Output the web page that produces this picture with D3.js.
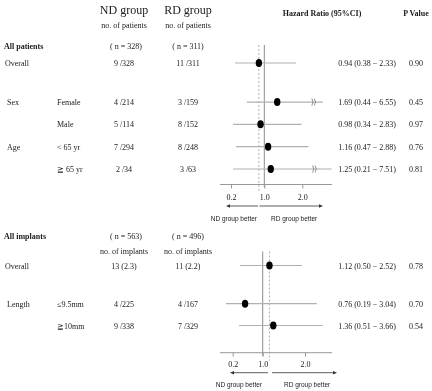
<!DOCTYPE html>
<html><head><meta charset="utf-8">
<script src="https://cdn.jsdelivr.net/npm/d3@7"></script>
<style>
body{margin:0;background:#fff;}
svg{display:block;will-change:transform;}
text{font-family:"Liberation Serif","DejaVu Serif",serif;fill:#1a1a1a;}
.sans{font-family:"Liberation Sans","DejaVu Sans",sans-serif;}
</style></head>
<body>
<svg id="c" width="432" height="391"></svg>
<script>
// ---------- data ----------
const topGroups = ["", "Sex", "", "Age", ""];
const topLabels = ["Overall", "Female", "Male", "< 65 yr", "≧ 65 yr"];
const topRows = [0, 1.75, 2.75, 3.75, 4.75];
const topND = ["9 /328", "4 /214", "5 /114", "7 /294", "2 /34"];
const topRD = ["11 /311", "3 /159", "8 /152", "8 /248", "3 /63"];
const topHR = [0.94, 1.69, 0.98, 1.16, 1.25];
const topLo = [0.38, 0.44, 0.34, 0.47, 0.21];
const topHi = [2.33, 6.55, 2.83, 2.88, 7.51];
const topP = ["0.90", "0.45", "0.97", "0.76", "0.81"];
// positions as drawn against the axis in the figure
const topPt = [0.87, 1.34, 0.91, 1.10, 1.17];
const topCiLo = [0.30, 0.58, 0.25, 0.32, 0.25];
const topCiHi = [1.83, 2.54, 1.98, 2.16, 2.77];
const topBreak = [null, 2.25, null, null, 2.27];
const topRef = 0.87;

const botGroups = ["", "Length", ""];
const botLabels = ["Overall", "≤9.5mm", "≧10mm"];
const botRows = [0, 1.75, 2.75];
const botND = ["13 (2.3)", "4 /225", "9 /338"];
const botRD = ["11 (2.2)", "4 /167", "7 /329"];
const botHR = [1.12, 0.76, 1.36];
const botLo = [0.50, 0.19, 0.51];
const botHi = [2.52, 3.04, 3.66];
const botP = ["0.78", "0.70", "0.54"];
const botPt = [1.16, 0.53, 1.25];
const botCiLo = [0.39, 0.02, 0.37];
const botCiHi = [1.93, 2.28, 2.42];
const botBreak = [null, null, null];
const botRef = 1.16;

const tickVals = [0.2, 1.0, 2.0];
const tickLabels = ["0.2", "1.0", "2.0"];

const svg = d3.select("#c");
const f2 = d3.format(".2f");
const hrText = (h, l, u) => `${f2(h)} (${f2(l)} − ${f2(u)})`;

// headers
svg.append("text").attr("x", 124).attr("y", 14).attr("text-anchor", "middle").attr("font-size", 12).text("ND group");
svg.append("text").attr("x", 188).attr("y", 14).attr("text-anchor", "middle").attr("font-size", 12).text("RD group");
svg.append("text").attr("x", 124).attr("y", 28).attr("text-anchor", "middle").attr("font-size", 8).text("no. of patients");
svg.append("text").attr("x", 188).attr("y", 28).attr("text-anchor", "middle").attr("font-size", 8).text("no. of patients");
svg.append("text").attr("x", 322).attr("y", 16).attr("text-anchor", "middle").attr("font-size", 8).attr("font-weight", "bold").text("Hazard Ratio (95%CI)");
svg.append("text").attr("x", 416).attr("y", 16).attr("text-anchor", "middle").attr("font-size", 8).attr("font-weight", "bold").text("P Value");

svg.append("text").attr("x", 4).attr("y", 49).attr("font-size", 8).attr("font-weight", "bold").text("All patients");
svg.append("text").attr("x", 126).attr("y", 49).attr("text-anchor", "middle").attr("font-size", 8).text("( n = 328)");
svg.append("text").attr("x", 188).attr("y", 49).attr("text-anchor", "middle").attr("font-size", 8).text("( n = 311)");

svg.append("text").attr("x", 4).attr("y", 239).attr("font-size", 8).attr("font-weight", "bold").text("All implants");
svg.append("text").attr("x", 126).attr("y", 239).attr("text-anchor", "middle").attr("font-size", 8).text("( n = 563)");
svg.append("text").attr("x", 188).attr("y", 239).attr("text-anchor", "middle").attr("font-size", 8).text("( n = 496)");
svg.append("text").attr("x", 124).attr("y", 254).attr("text-anchor", "middle").attr("font-size", 8).text("no. of implants");
svg.append("text").attr("x", 188).attr("y", 254).attr("text-anchor", "middle").attr("font-size", 8).text("no. of implants");

function panel(cfg) {
  const x = d3.scaleLinear().domain(tickVals).range(cfg.xr);
  const y = d3.scaleLinear().domain([0, cfg.rows[cfg.rows.length - 1]]).range(cfg.yr);
  const g = svg.append("g");

  // text columns
  cfg.labels.forEach((lab, i) => {
    const yy = y(cfg.rows[i]) + 3;
    if (cfg.groups[i]) g.append("text").attr("x", 7).attr("y", yy).attr("font-size", 8).text(cfg.groups[i]);
    g.append("text").attr("x", i === 0 ? 5 : 57).attr("y", yy).attr("font-size", 8).text(lab);
    g.append("text").attr("x", 124).attr("y", yy).attr("text-anchor", "middle").attr("font-size", 8).text(cfg.nd[i]);
    g.append("text").attr("x", 188).attr("y", yy).attr("text-anchor", "middle").attr("font-size", 8).text(cfg.rd[i]);
    g.append("text").attr("x", 396).attr("y", yy).attr("text-anchor", "end").attr("font-size", 8).text(hrText(cfg.hr[i], cfg.lo[i], cfg.hi[i]));
    g.append("text").attr("x", 416).attr("y", yy).attr("text-anchor", "middle").attr("font-size", 8).text(cfg.p[i]);
  });

  // reference lines
  g.append("line").attr("x1", x(1)).attr("x2", x(1)).attr("y1", cfg.vTop).attr("y2", cfg.axisY + 3)
    .attr("stroke", "#8c8c8c").attr("stroke-width", 1);
  g.append("line").attr("x1", x(cfg.ref)).attr("x2", x(cfg.ref)).attr("y1", cfg.vTop).attr("y2", cfg.axisY + 8)
    .attr("stroke", "#999").attr("stroke-width", 0.8).attr("stroke-dasharray", "2,2");

  // CI lines
  cfg.labels.forEach((lab, i) => {
    const yy = y(cfg.rows[i]);
    g.append("line").attr("x1", x(cfg.ciLo[i])).attr("x2", x(cfg.ciHi[i])).attr("y1", yy).attr("y2", yy)
      .attr("stroke", "#b0b0b0").attr("stroke-width", 1.2);
    if (cfg.brk[i] != null) {
      const bx = x(cfg.brk[i]);
      [0, 2.5].forEach(o => {
        g.append("path").attr("d", `M${bx + o},${yy - 3.5} Q${bx + o + 2.5},${yy} ${bx + o},${yy + 3.5}`)
          .attr("fill", "none").attr("stroke", "#777").attr("stroke-width", 0.8);
      });
    }
    g.append("ellipse").attr("cx", x(cfg.pt[i])).attr("cy", yy).attr("rx", 3.2).attr("ry", 4).attr("fill", "#000");
  });

  // axis
  g.append("line").attr("x1", cfg.axX[0]).attr("x2", cfg.axX[1]).attr("y1", cfg.axisY).attr("y2", cfg.axisY)
    .attr("stroke", "#999").attr("stroke-width", 1);
  const ax = g.append("g").attr("transform", `translate(0,${cfg.axisY})`)
    .call(d3.axisBottom(x).tickValues(tickVals).tickFormat((d, i) => tickLabels[i]).tickSize(4).tickSizeOuter(0).tickPadding(cfg.pad));
  ax.select(".domain").remove();
  ax.selectAll(".tick line").attr("stroke", "#999");
  ax.selectAll(".tick text").attr("font-family", "Liberation Serif").attr("font-size", 8).attr("fill", "#1a1a1a");

  // arrows
  const ay = cfg.arrowY;
  g.append("line").attr("x1", cfg.arrL[0]).attr("x2", cfg.arrL[1] + 3).attr("y1", ay).attr("y2", ay).attr("stroke", "#333").attr("stroke-width", 0.8);
  g.append("path").attr("d", `M${cfg.arrL[1]},${ay} l4,-1.8 l0,3.6 z`).attr("fill", "#333");
  g.append("line").attr("x1", cfg.arrR[0]).attr("x2", cfg.arrR[1] - 3).attr("y1", ay).attr("y2", ay).attr("stroke", "#333").attr("stroke-width", 0.8);
  g.append("path").attr("d", `M${cfg.arrR[1]},${ay} l-4,-1.8 l0,3.6 z`).attr("fill", "#333");
  g.append("text").attr("class", "sans").attr("x", cfg.ndEnd).attr("y", cfg.lblY).attr("text-anchor", "end").attr("font-size", 6.5).text("ND group  better");
  g.append("text").attr("class", "sans").attr("x", cfg.rdStart).attr("y", cfg.lblY).attr("font-size", 6.5).text("RD group  better");
}

panel({
  groups: topGroups, labels: topLabels, rows: topRows, nd: topND, rd: topRD,
  hr: topHR, lo: topLo, hi: topHi, p: topP, pt: topPt, ciLo: topCiLo, ciHi: topCiHi, brk: topBreak, ref: topRef,
  xr: [231, 264.3, 302.3], yr: [63, 169], vTop: 45, axisY: 184.5, axX: [220, 332], pad: 6,
  arrowY: 206, arrL: [258, 226], arrR: [259.5, 323], ndEnd: 257, rdStart: 271, lblY: 221
});
panel({
  groups: botGroups, labels: botLabels, rows: botRows, nd: botND, rd: botRD,
  hr: botHR, lo: botLo, hi: botHi, p: botP, pt: botPt, ciLo: botCiLo, ciHi: botCiHi, brk: botBreak, ref: botRef,
  xr: [232.7, 262.7, 305], yr: [265.5, 325.5], vTop: 251.5, axisY: 352.7, axX: [220, 332], pad: 5,
  arrowY: 372.7, arrL: [268, 230], arrR: [272, 337], ndEnd: 262, rdStart: 284, lblY: 387
});
</script>
</body></html>
